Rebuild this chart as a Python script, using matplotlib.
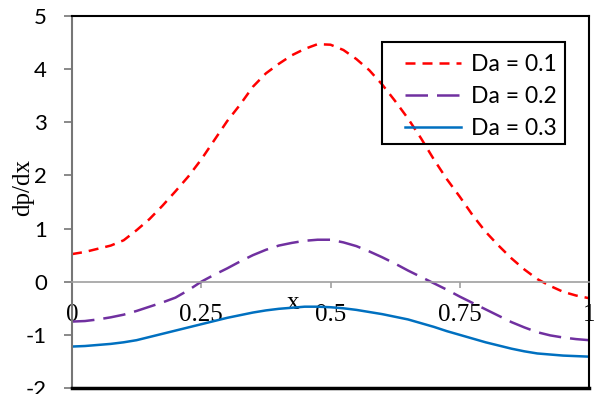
import numpy as np
import matplotlib.pyplot as plt
from matplotlib.patches import Rectangle

plt.rcParams["axes.unicode_minus"] = False

# values
x = [0.0, 0.025, 0.05, 0.075, 0.10, 0.125, 0.15, 0.175, 0.20, 0.225, 0.25,
     0.275, 0.30, 0.325, 0.35, 0.375, 0.40, 0.425, 0.45, 0.475, 0.50,
     0.525, 0.55, 0.575, 0.60, 0.625, 0.65, 0.675, 0.70, 0.725, 0.75,
     0.775, 0.80, 0.825, 0.85, 0.875, 0.90, 0.925, 0.95, 0.975, 1.0]
da_01 = [0.52, 0.56, 0.62, 0.68, 0.78, 0.97, 1.18, 1.43, 1.70, 1.98, 2.30,
         2.66, 3.02, 3.33, 3.67, 3.92, 4.10, 4.26, 4.38, 4.47, 4.46,
         4.36, 4.19, 3.98, 3.71, 3.40, 3.07, 2.70, 2.30, 1.93, 1.60,
         1.25, 0.94, 0.68, 0.44, 0.23, 0.05, -0.08, -0.19, -0.26, -0.31]
da_02 = [-0.75, -0.74, -0.71, -0.67, -0.62, -0.55, -0.47, -0.39, -0.30, -0.16, 0.0,
         0.13, 0.25, 0.38, 0.50, 0.60, 0.68, 0.73, 0.77, 0.79, 0.79,
         0.74, 0.67, 0.57, 0.46, 0.34, 0.21, 0.09, -0.03, -0.15, -0.28,
         -0.40, -0.52, -0.64, -0.76, -0.86, -0.95, -1.01, -1.05, -1.08, -1.10]
da_03 = [-1.22, -1.21, -1.19, -1.17, -1.14, -1.10, -1.04, -0.98, -0.92, -0.86, -0.80,
         -0.74, -0.68, -0.63, -0.58, -0.54, -0.51, -0.49, -0.47, -0.47, -0.48,
         -0.50, -0.53, -0.57, -0.61, -0.66, -0.71, -0.78, -0.85, -0.93, -1.00,
         -1.07, -1.14, -1.20, -1.26, -1.31, -1.35, -1.37, -1.39, -1.40, -1.41]
labels = ["Da = 0.1", "Da = 0.2", "Da = 0.3"]
xticks = [0, 0.25, 0.5, 0.75, 1]
xticklabels = ["0", "0.25", "0.5", "0.75", "1"]
yticks = [-2, -1, 0, 1, 2, 3, 4, 5]

sans = "Lato"
serif = "Liberation Serif"

fig = plt.figure(figsize=(5.95, 3.94), dpi=100)
ax = fig.add_axes([72/595, 1 - 388/394, (589 - 72)/595, (388 - 16)/394])

lw = 1.8
ax.plot(x, da_01, color="#FF0000", lw=lw, dashes=[4, 2.8], label=labels[0])
ax.plot(x, da_02, color="#7030A0", lw=lw, dashes=[9, 3.6], label=labels[1])
ax.plot(x, da_03, color="#0070C0", lw=lw, label=labels[2])

ax.set_xlim(0, 1)
ax.set_ylim(-2, 5)

# frame: black box, grey value axis, grey category axis at y = 0
for s in ["top", "right"]:
    ax.spines[s].set_color("black")
    ax.spines[s].set_linewidth(1.5)
ax.spines["left"].set_color("#767676")
ax.spines["left"].set_linewidth(1.5)
ax.spines["bottom"].set_position(("data", 0))
ax.spines["bottom"].set_color("#A0A0A0")
ax.spines["bottom"].set_linewidth(1.2)
ax.plot([0, 1], [0, 0], transform=ax.transAxes, color="black", lw=2.5,
        clip_on=False, zorder=5)

ax.set_yticks(yticks)
ax.tick_params(axis="y", direction="out", length=6, width=1.2, color="#767676",
               pad=12, labelsize=16)
for t in ax.get_yticklabels():
    t.set_fontfamily(sans)

ax.set_xticks(xticks)
ax.set_xticklabels(xticklabels)
ax.tick_params(axis="x", direction="out", length=4, width=1.2, color="#A0A0A0",
               pad=12, labelsize=18)
for t in ax.get_xticklabels():
    t.set_fontfamily(serif)

ax.set_ylabel("dp/dx", fontfamily=serif, fontsize=18, va="center")
ax.yaxis.set_label_coords(-0.095, 0.54)
ax.set_xlabel("x", fontfamily=serif, fontsize=18, va="center")
ax.xaxis.set_label_coords(0.427, 0.228)

# legend entries without frame, box drawn separately (wider left padding)
leg = ax.legend(loc="upper left", bbox_to_anchor=(0.644, 0.897),
                borderaxespad=0, borderpad=0, frameon=False,
                handlelength=2.45, handletextpad=0.45, labelspacing=0.47,
                prop={"family": sans, "size": 16.5})
ax.add_patch(Rectangle((0.5996, 0.656), 0.354, 0.274, transform=ax.transAxes,
                       fill=False, edgecolor="black", lw=1.5, zorder=6))

fig.savefig("out.png", dpi=100)
